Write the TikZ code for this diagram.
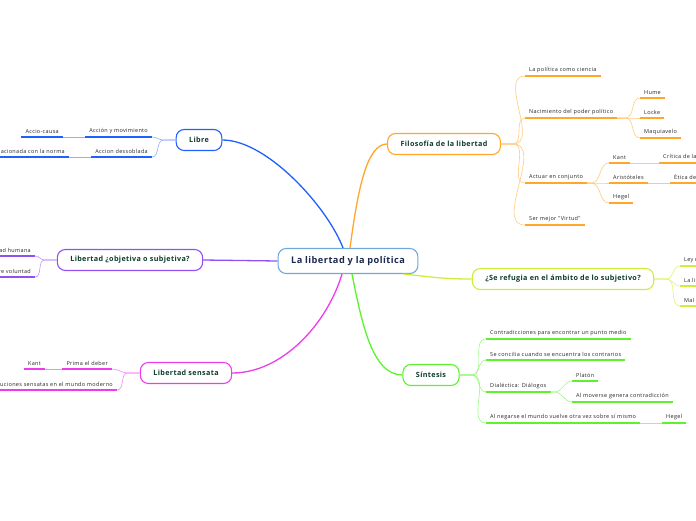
\documentclass[tikz,border=0pt]{standalone}
\usepackage{fontspec}
\setmainfont{Open Sans}
\newfontfamily\leaffont[LetterSpace=6]{Open Sans}
\newfontfamily\topicfont[LetterSpace=5]{Open Sans}
\definecolor{rootline}{HTML}{6FA8DC}
\definecolor{roottext}{HTML}{1B2A4E}
\definecolor{topictext}{HTML}{0E3B2E}
\definecolor{cblue}{HTML}{2060FF}
\definecolor{cpurple}{HTML}{9150F5}
\definecolor{cmag}{HTML}{EE3BEE}
\definecolor{corange}{HTML}{FFA62B}
\definecolor{clime}{HTML}{CCF03A}
\definecolor{cgreen}{HTML}{5CF22E}
\tikzset{
  root/.style={draw=rootline, fill=white, rounded corners=8pt, line width=1.1pt,
    font=\topicfont\bfseries\fontsize{9.2}{11}\selectfont, text=roottext, inner xsep=13pt, minimum height=25pt},
  topic/.style={draw=#1, fill=white, rounded corners=8pt, line width=1.1pt,
    font=\topicfont\bfseries\fontsize{7.2}{8}\selectfont, text=topictext, inner xsep=13pt, minimum height=21pt},
  leafR/.style={anchor=south west, font=\leaffont\fontsize{5.5}{6}\selectfont, text=black!85,
    inner xsep=4pt, inner ysep=3pt},
  leafL/.style={leafR, anchor=south east},
  ul/.style={line width=1.6pt},
  link/.style={line width=0.6pt},
  trunk/.style={line width=1.3pt}
}
\begin{document}
\begin{tikzpicture}[x=1pt,y=-1pt]
  \useasboundingbox (0,0) rectangle (696,520);

  % centre and main topics
  \node[root] (root) at (348,261) {La libertad y la política};
  \node[topic=cblue] (libre) at (199,140) {Libre};
  \node[topic=cpurple] (objsub) at (130,260) {Libertad ¿objetiva o subjetiva?};
  \node[topic=cmag] (sensata) at (186,373) {Libertad sensata};
  \node[topic=corange] (filo) at (444,144) {Filosofía de la libertad};
  \node[topic=clime] (refugia) at (563,279) {¿Se refugia en el ámbito de lo subjetivo?};
  \node[topic=cgreen] (sintesis) at (431,375) {Síntesis};

  % Filosofia de la libertad
  \node[leafR] (ciencia) at (525,76) {La política como ciencia};
  \node[leafR] (nacim) at (525,118) {Nacimiento del poder político};
  \node[leafR] (hume) at (640,98) {Hume};
  \node[leafR] (locke) at (640,118) {Locke};
  \node[leafR] (maqui) at (640,138) {Maquiavelo};
  \node[leafR] (actuar) at (525,183) {Actuar en conjunto};
  \node[leafR] (kantA) at (609,163) {Kant};
  \node[leafR] (aristo) at (609,183) {Aristóteles};
  \node[leafR] (hegelA) at (609,203) {Hegel};
  \node[leafR] (critica) at (659,163) {Crítica de la razón práctica};
  \node[leafR] (etica) at (670,183) {Ética de Nicómaco};
  \node[leafR] (virtud) at (525,225) {Ser mejor "Virtud"};

  % Se refugia ...
  \node[leafR] (ley) at (680,266) {Ley moral};
  \node[leafR] (interior) at (680,286) {La libertad interior};
  \node[leafR] (mal) at (680,306) {Mal radical};

  % Sintesis
  \node[leafR] (contrad) at (486,339) {Contradicciones para encontrar un punto medio};
  \node[leafR] (concilia) at (486,360) {Se concilia cuando se encuentra los contrarios};
  \node[leafR] (dialect) at (486,392) {Dialéctica: Diálogos};
  \node[leafR] (platon) at (572,381) {Platón};
  \node[leafR] (mueve) at (572,402) {Al moverse genera contradicción};
  \node[leafR] (niega) at (486,423) {Al negarse el mundo vuelve otra vez sobre sí mismo};
  \node[leafR] (hegelS) at (662,423) {Hegel};

  % Libre
  \node[leafL] (accion) at (152,137) {Acción y movimiento};
  \node[leafL] (causa) at (63,137) {Accio-causa};
  \node[leafL] (dessob) at (152,157) {Accion dessoblada};
  \node[leafL] (norma) at (69,157) {Relacionada con la norma};

  % objetiva o subjetiva
  \node[leafL] (humana) at (35,256) {Libertad humana};
  \node[leafL] (volunt) at (35,277) {Libre voluntad};

  % sensata
  \node[leafL] (deber) at (112,369) {Prima el deber};
  \node[leafL] (kantS) at (45,369) {Kant};
  \node[leafL] (instit) at (117,390) {Instituciones sensatas en el mundo moderno};

  % underlines
  \foreach \n/\c in {ciencia/corange,nacim/corange,hume/corange,locke/corange,maqui/corange,
      actuar/corange,kantA/corange,aristo/corange,hegelA/corange,critica/corange,etica/corange,
      virtud/corange,ley/clime,interior/clime,mal/clime,contrad/cgreen,concilia/cgreen,
      dialect/cgreen,platon/cgreen,mueve/cgreen,niega/cgreen,hegelS/cgreen,accion/cblue,
      causa/cblue,dessob/cblue,norma/cblue,humana/cpurple,volunt/cpurple,deber/cmag,
      kantS/cmag,instit/cmag}{%
    \draw[ul,\c] (\n.south west) -- (\n.south east);
  }

  % main branches
  \draw[trunk,cblue] ([xshift=-5pt]root.north) .. controls +(-15,-40) and +(45,0) .. (libre.east);
  \draw[trunk,corange] ([xshift=2pt]root.north) .. controls +(8,-60) and +(-20,0) .. (filo.west);
  \draw[trunk,cpurple] (root.west) -- (objsub.east);
  \draw[trunk,cmag] ([xshift=-6pt]root.south) .. controls +(-15,50) and +(50,0) .. (sensata.east);
  \draw[trunk,cgreen] ([xshift=4pt]root.south) .. controls +(10,50) and +(-30,0) .. (sintesis.west);
  \draw[trunk,clime] ([xshift=-15pt]root.south east) .. controls +(30,3) and +(-30,0) .. (refugia.west);

  % links to leaves, right side
  \foreach \n in {ciencia,nacim,actuar,virtud}{%
    \draw[link,corange!60] (filo.east) -- ++(12,0) to[out=0,in=180] (\n.south west);
  }
  \foreach \n in {hume,locke,maqui}{%
    \draw[link,corange!60] (nacim.south east) -- ++(8,0) to[out=0,in=180] (\n.south west);
  }
  \foreach \n in {kantA,aristo,hegelA}{%
    \draw[link,corange!60] (actuar.south east) -- ++(4,0) to[out=0,in=180] (\n.south west);
  }
  \draw[link,corange!60] (kantA.south east) -- (critica.south west);
  \draw[link,corange!60] (aristo.south east) -- (etica.south west);
  \foreach \n in {ley,interior,mal}{%
    \draw[link,clime!70] (refugia.east) -- ++(12,0) to[out=0,in=180] (\n.south west);
  }
  \foreach \n in {contrad,concilia,dialect,niega}{%
    \draw[link,cgreen!60] (sintesis.east) -- ++(12,0) to[out=0,in=180] (\n.south west);
  }
  \foreach \n in {platon,mueve}{%
    \draw[link,cgreen!60] (dialect.south east) -- ++(4,0) to[out=0,in=180] (\n.south west);
  }
  \draw[link,cgreen!60] (niega.south east) -- (hegelS.south west);

  % links to leaves, left side
  \foreach \n in {accion,dessob}{%
    \draw[link,cblue!50] (libre.west) -- ++(-12,0) to[out=180,in=0] (\n.south east);
  }
  \draw[link,cblue!50] (accion.south west) -- (causa.south east);
  \draw[link,cblue!50] (dessob.south west) -- (norma.south east);
  \foreach \n in {humana,volunt}{%
    \draw[link,cpurple!60] (objsub.west) -- ++(-12,0) to[out=180,in=0] (\n.south east);
  }
  \foreach \n in {deber,instit}{%
    \draw[link,cmag!60] (sensata.west) -- ++(-12,0) to[out=180,in=0] (\n.south east);
  }
  \draw[link,cmag!60] (deber.south west) -- (kantS.south east);
\end{tikzpicture}
\end{document}
